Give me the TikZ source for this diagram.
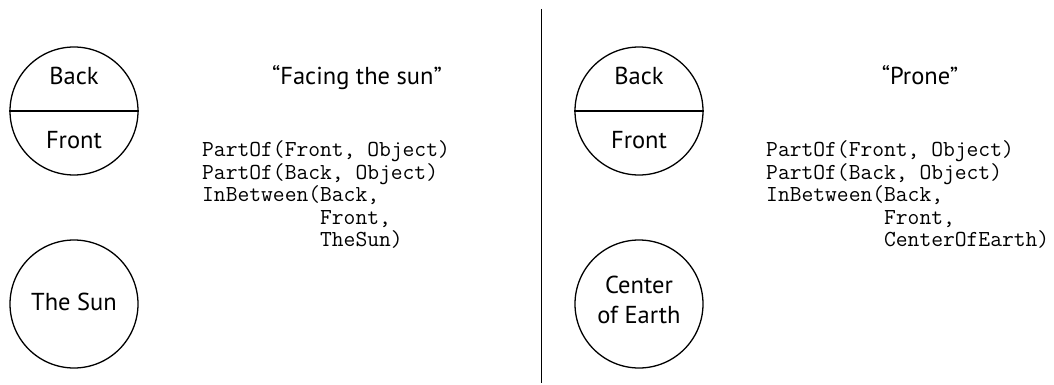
\documentclass[tikz,border=0pt]{standalone}
\usepackage{fontspec}
\setmainfont{PT Sans}
\lineskiplimit=-30pt
\begin{document}
\begin{tikzpicture}[x=1pt,y=1pt,
  obj/.style={circle,draw,line width=1.3pt,minimum size=128pt,inner sep=0pt},
  lbl/.style={font=\fontsize{24.5}{30}\selectfont,inner sep=0pt,anchor=base,align=center},
  codebox/.style={font=\fontsize{22.9}{22.4}\selectfont\ttfamily,inner sep=0pt,anchor=north west,align=left},
  divider/.style={line width=1pt}]
\useasboundingbox (0,0) rectangle (1054,-385);
% ---------- left panel ----------
\node[obj] (objA) at (74,-111) {};
\draw[line width=1.3pt] (objA.west) -- (objA.east);
\node[lbl] (backA) at (74,-85) {Back};
\node[lbl] (frontA) at (74,-149) {Front};
\node[obj] (sun) at (74,-304) {};
\node[lbl] (sunlbl) at (74,-310) {The Sun};
\node[lbl] (titleA) at (357,-85) {“Facing the sun”};
\node[codebox] (codeA) at (202,-140.8) {PartOf(Front, Object)\\PartOf(Back, Object)\\InBetween(Back,\\\phantom{InBetween(}Front,\\\phantom{InBetween(}TheSun)};
% ---------- divider ----------
\coordinate (dtop) at (541,-9);
\coordinate (dbot) at (541,-383);
\draw[divider] (dtop) -- (dbot);
% ---------- right panel ----------
\node[obj] (objB) at (639,-111) {};
\draw[line width=1.3pt] (objB.west) -- (objB.east);
\node[lbl] (backB) at (639,-85) {Back};
\node[lbl] (frontB) at (639,-149) {Front};
\node[obj] (earth) at (639,-304) {};
\node[lbl,anchor=center] (earthlbl) at (639,-299.5) {Center\\of Earth};
\node[lbl] (titleB) at (920,-85) {“Prone”};
\node[codebox] (codeB) at (766,-140.8) {PartOf(Front, Object)\\PartOf(Back, Object)\\InBetween(Back,\\\phantom{InBetween(}Front,\\\phantom{InBetween(}CenterOfEarth)};
\end{tikzpicture}
\end{document}
